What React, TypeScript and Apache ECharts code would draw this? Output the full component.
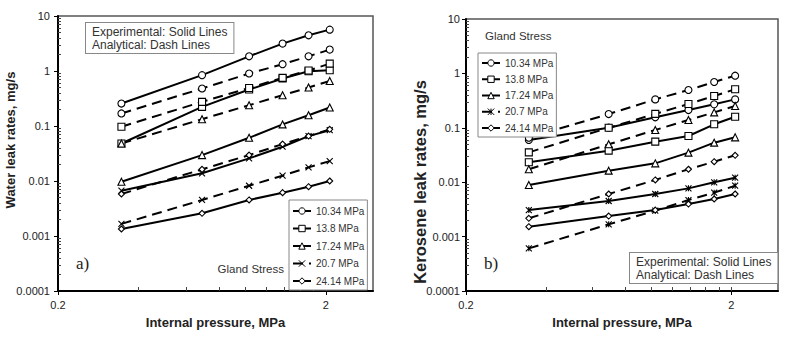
import React, { useEffect, useRef } from "react";
import * as echarts from "echarts";

// ---------- data ----------
const PRESSURE_X = [0.345, 0.69, 1.034, 1.379, 1.724, 2.068];
const GLAND = ["10.34 MPa", "13.8 MPa", "17.24 MPa", "20.7 MPa", "24.14 MPa"];

// Water (panel a)
const W_EXP_1034 = [0.256, 0.84, 1.85, 3.15, 4.46, 5.65];
const W_ANA_1034 = [0.169, 0.48, 0.9, 1.33, 1.85, 2.45];
const W_EXP_138 = [0.048, 0.223, 0.46, 0.73, 0.99, 1.03];
const W_ANA_138 = [0.097, 0.275, 0.49, 0.75, 1.02, 1.36];
const W_EXP_1724 = [0.0097, 0.0296, 0.061, 0.107, 0.157, 0.217];
const W_ANA_1724 = [0.048, 0.133, 0.239, 0.363, 0.5, 0.66];
const W_EXP_207 = [0.00667, 0.0138, 0.0258, 0.042, 0.0655, 0.084];
const W_ANA_207 = [0.00166, 0.00452, 0.0082, 0.0125, 0.0177, 0.023];
const W_EXP_2414 = [0.00134, 0.00259, 0.00452, 0.00614, 0.00788, 0.01];
const W_ANA_2414 = [0.0058, 0.0163, 0.0296, 0.0469, 0.0656, 0.087];

// Kerosene (panel b)
const K_EXP_1034 = [0.0597, 0.1005, 0.156, 0.212, 0.27, 0.333];
const K_ANA_1034 = [0.0659, 0.179, 0.333, 0.495, 0.695, 0.908];
const K_EXP_138 = [0.0232, 0.038, 0.0556, 0.0707, 0.116, 0.16];
const K_ANA_138 = [0.0354, 0.1, 0.18, 0.274, 0.385, 0.51];
const K_EXP_1724 = [0.0089, 0.0163, 0.0222, 0.0349, 0.0533, 0.0668];
const K_ANA_1724 = [0.0173, 0.0497, 0.0912, 0.139, 0.192, 0.252];
const K_EXP_207 = [0.00308, 0.00451, 0.00607, 0.0077, 0.00995, 0.0121];
const K_ANA_207 = [0.000608, 0.00168, 0.003, 0.0047, 0.00643, 0.00863];
const K_EXP_2414 = [0.00152, 0.00239, 0.00308, 0.00397, 0.00491, 0.00607];
const K_ANA_2414 = [0.00217, 0.00607, 0.011, 0.0173, 0.0238, 0.0312];

// ticks
const X_LABELS = [0.2, 2];
const X_MINOR = [0.4, 0.6, 0.8, 1.0, 1.2, 1.4, 1.6, 1.8, 2.0];
const Y_LABELS = [0.0001, 0.001, 0.01, 0.1, 1, 10];
const Y_MINOR = [
  0.0002, 0.0003, 0.0004, 0.0005, 0.0006, 0.0007, 0.0008, 0.0009,
  0.002, 0.003, 0.004, 0.005, 0.006, 0.007, 0.008, 0.009,
  0.02, 0.03, 0.04, 0.05, 0.06, 0.07, 0.08, 0.09,
  0.2, 0.3, 0.4, 0.5, 0.6, 0.7, 0.8, 0.9,
  2, 3, 4, 5, 6, 7, 8, 9,
];

const FONT = "'Liberation Sans', Arial, sans-serif";
const SERIF = "'Liberation Serif', 'Times New Roman', serif";

const X_MARK = "path://M0,0L10,10M10,0L0,10";
const STAR_MARK = "path://M0,0L10,10M10,0L0,10M5,0L5,10";

const yFmt = (v: number) => {
  const e = Math.round(Math.log10(v));
  return e >= 0 ? String(Math.pow(10, e)) : "0." + "0".repeat(-e - 1) + "1";
};

function mkSeries(
  name: string,
  values: number[],
  dashed: boolean,
  symbol: string,
  size: number,
  axis: number
) {
  return {
    type: "line",
    name,
    xAxisIndex: axis,
    yAxisIndex: axis,
    data: PRESSURE_X.map((x, i) => [x, values[i]]),
    symbol,
    symbolSize: size,
    showAllSymbol: true,
    lineStyle: { color: "#000", width: 2, type: dashed ? [10, 6] : "solid" },
    itemStyle: { color: "#fff", borderColor: "#000", borderWidth: 1.1 },
    emphasis: { disabled: true },
    silent: true,
  };
}

function panelSeries(
  prefix: string,
  sets: [number[], number[]][],
  xSym: string,
  axis: number
) {
  const syms = ["circle", "rect", "triangle", xSym, "diamond"];
  const sizes = [7, 7, 7, 6, 6];
  const out: any[] = [];
  sets.forEach(([exp, ana], i) => {
    const name = prefix + GLAND[i];
    const e = mkSeries(name, exp, false, syms[i], sizes[i], axis);
    const a = mkSeries(name, ana, true, syms[i], sizes[i], axis);
    // legend icon uses first series; 20.7 MPa legend shows the dashed line
    if (i === 3) out.push(a, e);
    else out.push(e, a);
  });
  return out;
}

function axesFor(grid: number, labelMargin: number) {
  const lineStyle = { color: "#000", width: 2 };
  const xMain = {
    type: "log",
    gridIndex: grid,
    min: 0.2,
    max: 3,
    position: "bottom",
    axisLine: { show: true, lineStyle },
    axisTick: { show: true, inside: false, length: 4, customValues: X_LABELS, lineStyle: { color: "#000" } },
    axisLabel: {
      customValues: X_LABELS,
      formatter: (v: number) => String(v),
      fontSize: 11,
      color: "#222",
      fontFamily: FONT,
      margin: 8,
    },
    splitLine: { show: false },
    minorTick: { show: false },
    name: "Internal pressure, MPa",
    nameLocation: "middle",
    nameGap: 25,
    nameTextStyle: { fontSize: 13, fontWeight: "bold", color: "#222", fontFamily: FONT },
  };
  const xMinor = {
    type: "log",
    gridIndex: grid,
    min: 0.2,
    max: 3,
    position: "bottom",
    axisLine: { show: false },
    axisTick: { show: true, inside: true, length: 4, customValues: X_MINOR, lineStyle: { color: "#444" } },
    axisLabel: { show: false },
    splitLine: { show: false },
  };
  const yMain = {
    type: "log",
    gridIndex: grid,
    min: 0.0001,
    max: 10,
    position: "left",
    axisLine: { show: true, lineStyle },
    axisTick: { show: true, inside: false, length: 4, customValues: Y_LABELS, lineStyle: { color: "#000" } },
    axisLabel: {
      customValues: Y_LABELS,
      formatter: yFmt,
      fontSize: 11,
      color: "#222",
      fontFamily: FONT,
      margin: labelMargin,
    },
    splitLine: { show: false },
  };
  const yMinor = {
    type: "log",
    gridIndex: grid,
    min: 0.0001,
    max: 10,
    position: "left",
    axisLine: { show: false },
    axisTick: { show: true, inside: true, length: 3, customValues: Y_MINOR, lineStyle: { color: "#444" } },
    axisLabel: { show: false },
    splitLine: { show: false },
  };
  return { x: [xMain, xMinor], y: [yMain, yMinor] };
}

export default function App() {
  const ref = useRef<HTMLDivElement>(null);
  useEffect(() => {
    if (!ref.current) return;
    const chart = echarts.init(ref.current, undefined, { renderer: "svg" });
    const A = axesFor(0, 8);
    const B = axesFor(1, 6);

    const left = panelSeries(
      "",
      [
        [W_EXP_1034, W_ANA_1034],
        [W_EXP_138, W_ANA_138],
        [W_EXP_1724, W_ANA_1724],
        [W_EXP_207, W_ANA_207],
        [W_EXP_2414, W_ANA_2414],
      ],
      X_MARK,
      0
    );
    const right = panelSeries(
      "K ",
      [
        [K_EXP_1034, K_ANA_1034],
        [K_EXP_138, K_ANA_138],
        [K_EXP_1724, K_ANA_1724],
        [K_EXP_207, K_ANA_207],
        [K_EXP_2414, K_ANA_2414],
      ],
      STAR_MARK,
      2
    );

    const legendBase = {
      orient: "vertical",
      itemWidth: 18,
      itemHeight: 8,
      padding: [6, 3, 4, 3],
      borderColor: "#888",
      borderWidth: 1,
      backgroundColor: "#fff",
      selectedMode: false,
      itemStyle: { color: "#fff", borderColor: "#000", borderWidth: 1 },
      lineStyle: { color: "#000", width: 2 },
      textStyle: { fontSize: 10, color: "#333", fontFamily: FONT },
      formatter: (n: string) => n.replace(/^K /, ""),
    };

    const boxText = "Experimental: Solid Lines\nAnalytical: Dash Lines";
    const boxStyle = {
      text: boxText,
      fontSize: 12,
      fontFamily: FONT,
      fill: "#333",
      lineHeight: 13,
      backgroundColor: "#fff",
      borderColor: "#888",
      borderWidth: 1,
      padding: [2, 6, 2, 6],
    };

    chart.setOption({
      animation: false,
      backgroundColor: "#fff",
      grid: [
        { left: 58, top: 16, width: 315, height: 275, show: true, borderColor: "#555", borderWidth: 1.5, backgroundColor: "transparent" },
        { left: 466, top: 19, width: 312, height: 272, show: true, borderColor: "#555", borderWidth: 1.5, backgroundColor: "transparent" },
      ],
      xAxis: [...A.x, ...B.x],
      yAxis: [...A.y, ...B.y],
      legend: [
        { ...legendBase, data: GLAND, left: 289, top: 200, itemGap: 7.5 },
        { ...legendBase, data: GLAND.map((g) => "K " + g), left: 478, top: 53, itemGap: 6.25, padding: [5, 3, 4, 3] },
      ],
      graphic: [
        { type: "text", x: 86, y: 23, style: { ...boxStyle } },
        { type: "text", x: 630, y: 253, style: { ...boxStyle } },
        { type: "text", x: 284, y: 269, style: { text: "Gland Stress", fontSize: 11.5, fontFamily: FONT, fill: "#333", align: "right", verticalAlign: "middle" } },
        { type: "text", x: 485, y: 36, style: { text: "Gland Stress", fontSize: 11.5, fontFamily: FONT, fill: "#333", verticalAlign: "middle" } },
        { type: "text", x: 76, y: 263, style: { text: "a)", fontSize: 17, fontFamily: SERIF, fill: "#222", verticalAlign: "middle" } },
        { type: "text", x: 484, y: 263, style: { text: "b)", fontSize: 17, fontFamily: SERIF, fill: "#222", verticalAlign: "middle" } },
        {
          type: "text",
          x: 10,
          y: 140,
          rotation: Math.PI / 2,
          style: { text: "Water leak rates, mg/s", fontSize: 13, fontWeight: "bold", fontFamily: FONT, fill: "#222", align: "center", verticalAlign: "middle" },
        },
        {
          type: "text",
          x: 420,
          y: 182,
          rotation: Math.PI / 2,
          style: { text: "Kerosene leak rates, mg/s", fontSize: 16.5, fontWeight: "bold", fontFamily: FONT, fill: "#222", align: "center", verticalAlign: "middle" },
        },
      ],
      series: [...left, ...right],
    });
    return () => chart.dispose();
  }, []);
  return (
    <div
      ref={ref}
      style={{ position: "absolute", left: 0, top: 0, width: 786, height: 341 }}
    />
  );
}
